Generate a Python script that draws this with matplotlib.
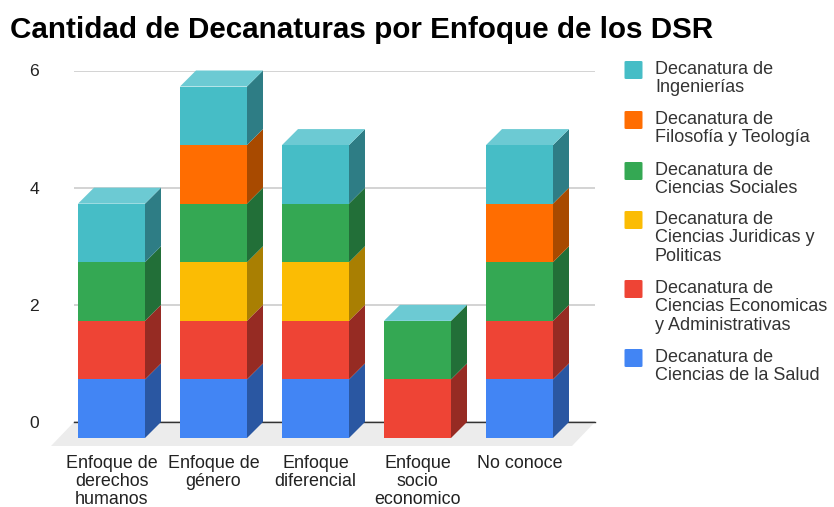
import numpy as np
import matplotlib
matplotlib.use('Agg')
import matplotlib.pyplot as plt
from matplotlib.patches import FancyBboxPatch

plt.rcParams['font.family'] = ['Liberation Sans', 'DejaVu Sans']

categorias = ['Enfoque de\nderechos\nhumanos', 'Enfoque de\ngénero', 'Enfoque\ndiferencial',
              'Enfoque\nsocio\neconomico', 'No conoce']
salud = [1, 1, 1, 0, 1]
economicas = [1, 1, 1, 1, 1]
juridicas = [0, 1, 1, 0, 0]
sociales = [1, 1, 1, 1, 1]
filosofia = [0, 1, 0, 0, 1]
ingenierias = [1, 1, 1, 0, 1]
series = [salud, economicas, juridicas, sociales, filosofia, ingenierias]

colores = ['#4285f4', '#ee4435', '#fbbc04', '#34a853', '#ff6d01', '#46bdc6']
laterales = ['#2a57a2', '#962b23', '#a97f02', '#226f38', '#a84a00', '#2e7d85']
color_tapa = '#6ccad3'
etiquetas = ['Decanatura de\nIngenierías', 'Decanatura de\nFilosofía y Teología',
             'Decanatura de\nCiencias Sociales', 'Decanatura de\nCiencias Juridicas y\nPoliticas',
             'Decanatura de\nCiencias Economicas\ny Administrativas', 'Decanatura de\nCiencias de la Salud']
y_leyenda = [70, 120, 171, 220, 289, 358]

W, H = 834, 507
fig = plt.figure(figsize=(W / 100, H / 100), dpi=100)
# ejes en pixeles: de x=74 a 595, y de 422 (0) a 70.5 (6)
ax = fig.add_axes([74 / W, 1 - 422 / H, (595 - 74) / W, (422 - 70.5) / H])
paso = 102.0
x0 = -(111.5 - 74) / paso
ax.set_xlim(x0, x0 + (595 - 74) / paso)
ax.set_ylim(0, 6)
py = 6 / (422 - 70.5)
ancho = 67 / paso
dx = 16 / paso
dy = 16 * py

x = np.arange(len(categorias))

# piso
ax.fill([x0, x0 + 521 / paso, x0 + 498 / paso, x0 - 23 / paso], [0, 0, -24 * py, -24 * py],
        color='#ececec', lw=0, zorder=1, clip_on=False)
ax.plot([x0, x0 + 521 / paso], [0, 0], color='#333333', lw=1.0, zorder=1.5, clip_on=False)

base = np.zeros(len(x))
for serie, color, lateral in zip(series, colores, laterales):
    vals = np.array(serie, dtype=float)
    ax.bar(x, vals, ancho, bottom=base - dy, color=color, lw=0, zorder=3, clip_on=False)
    for xi, b, v in zip(x, base, vals):
        if v > 0:
            d = xi + ancho / 2
            ax.fill([d, d + dx, d + dx, d], [b - dy, b, b + v, b + v - dy],
                    color=lateral, lw=0, zorder=2.5, clip_on=False)
    base = base + vals

for xi, t in zip(x, base):
    iz = xi - ancho / 2
    ax.fill([iz, iz + ancho, iz + ancho + dx, iz + dx], [t - dy, t - dy, t, t],
            color=color_tapa, lw=0, zorder=2.5, clip_on=False)

ax.set_yticks([0, 2, 4, 6])
ax.set_xticks(x)
ax.set_xticklabels(categorias, fontsize=12.9, color='#222222', linespacing=1.05)
ax.tick_params(axis='x', length=0, pad=24)
ax.tick_params(axis='y', length=0, pad=25, labelsize=12.6, labelcolor='#222222')
ax.yaxis.grid(True, color='#cccccc', lw=1.2)
ax.set_axisbelow(True)
for s in ax.spines.values():
    s.set_visible(False)

fig.text(10 / W, 1 - 30.5 / H, 'Cantidad de Decanaturas por Enfoque de los DSR', fontsize=21.3,
         fontweight='bold', color='#000000', va='center', ha='left')

orden = colores[::-1]
for etq, color, yc in zip(etiquetas, orden, y_leyenda):
    fig.add_artist(FancyBboxPatch((624.5 / W, 1 - (yc + 9) / H), 18 / W, 18 / H,
                                  boxstyle='round,pad=0,rounding_size=0.002',
                                  transform=fig.transFigure, fc=color, ec='none'))
    fig.text(655 / W, 1 - (yc - 9) / H, etq, fontsize=13.0, color='#333333', va='top', ha='left',
             linespacing=1.1)

fig.savefig('out.png', dpi=100)
